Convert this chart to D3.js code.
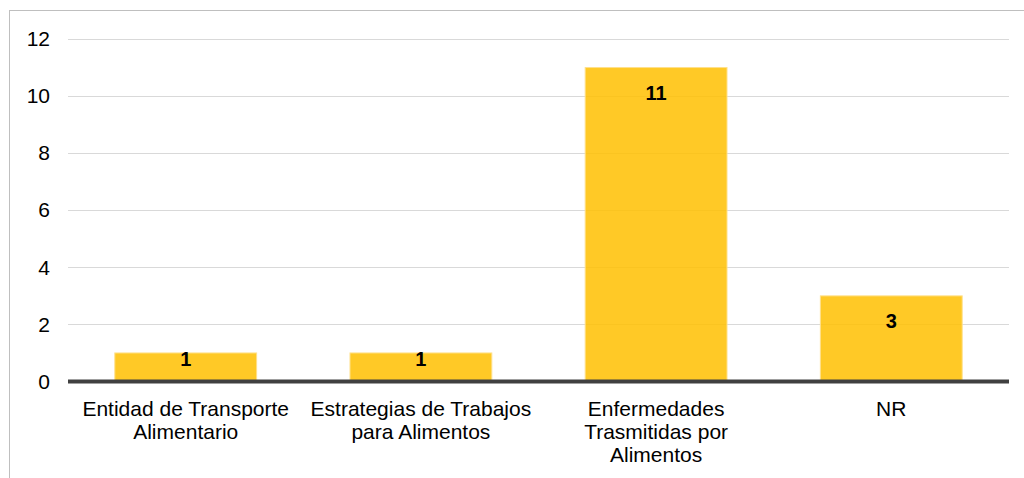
<!DOCTYPE html>
<html>
<head>
<meta charset="utf-8">
<script src="https://cdn.jsdelivr.net/npm/d3@7"></script>
<style>
  html, body { margin: 0; padding: 0; background: #fff; }
  svg { display: block; font-family: "Liberation Sans", Arial, sans-serif; }
</style>
</head>
<body>
<svg id="chart" width="1024" height="478"></svg>
<script>
// Category labels (each entry is a list of wrapped lines)
const categories = [
  ["Entidad de Transporte", "Alimentario"],
  ["Estrategias de Trabajos", "para Alimentos"],
  ["Enfermedades", "Trasmitidas por", "Alimentos"],
  ["NR"]
];
const values = [1, 1, 11, 3];
const yTicks = [0, 2, 4, 6, 8, 10, 12];

const svg = d3.select("#chart");
const W = 1024, H = 478;
const margin = { left: 68, right: 15, top: 39, bottom: 96 };

// Outer frame (only top and left edges fall inside the view)
svg.append("rect")
  .attr("x", 9.5).attr("y", 10.5)
  .attr("width", W + 10).attr("height", H + 10)
  .attr("fill", "none").attr("stroke", "#bfbfbf").attr("stroke-width", 1);

const x = d3.scaleBand()
  .domain(d3.range(categories.length))
  .range([margin.left, W - margin.right])
  .paddingInner(0.397).paddingOuter(0.199);

const y = d3.scaleLinear()
  .domain([0, 12])
  .range([H - margin.bottom - 0.5, margin.top]);

// Horizontal gridlines
svg.append("g")
  .selectAll("line")
  .data(yTicks.filter(d => d > 0))
  .join("line")
  .attr("x1", margin.left).attr("x2", W - margin.right)
  .attr("y1", d => Math.round(y(d)) + 0.5).attr("y2", d => Math.round(y(d)) + 0.5)
  .attr("stroke", "#d9d9d9").attr("stroke-width", 1);

// Y axis labels
const yAxis = d3.axisLeft(y).tickValues(yTicks).tickSize(0).tickPadding(0);
const yg = svg.append("g").attr("transform", `translate(50,0)`).call(yAxis);
yg.select(".domain").remove();
yg.selectAll("text")
  .attr("font-size", 21).attr("fill", "#000")
  .attr("font-family", "'Liberation Sans', Arial, sans-serif");

// Bars
svg.append("g")
  .selectAll("rect")
  .data(values)
  .join("rect")
  .attr("x", (d, i) => x(i))
  .attr("width", x.bandwidth())
  .attr("y", d => y(d))
  .attr("height", d => y(0) - y(d))
  .attr("fill", "#ffc000")
  .attr("fill-opacity", 0.85)
  .attr("stroke", "#ffe08a")
  .attr("stroke-width", 1);

// Baseline
svg.append("line")
  .attr("x1", margin.left).attr("x2", W - margin.right)
  .attr("y1", y(0)).attr("y2", y(0))
  .attr("stroke", "#404040").attr("stroke-width", 4);

// Value labels, placed at the inside end of each bar
svg.append("g")
  .selectAll("text")
  .data(values)
  .join("text")
  .attr("x", (d, i) => x(i) + x.bandwidth() / 2)
  .attr("y", d => Math.min(y(d) + 32, (y(d) + y(0)) / 2 - 1))
  .attr("text-anchor", "middle")
  .attr("font-size", 20).attr("font-weight", "bold").attr("fill", "#000")
  .text(d => d);

// Category labels
const xg = svg.append("g");
categories.forEach((lines, i) => {
  const t = xg.append("text")
    .attr("x", x(i) + x.bandwidth() / 2)
    .attr("y", 416)
    .attr("text-anchor", "middle")
    .attr("font-size", 21).attr("fill", "#000");
  lines.forEach((ln, k) => {
    t.append("tspan")
      .attr("x", x(i) + x.bandwidth() / 2)
      .attr("dy", k === 0 ? 0 : 23)
      .text(ln);
  });
});
</script>
</body>
</html>
